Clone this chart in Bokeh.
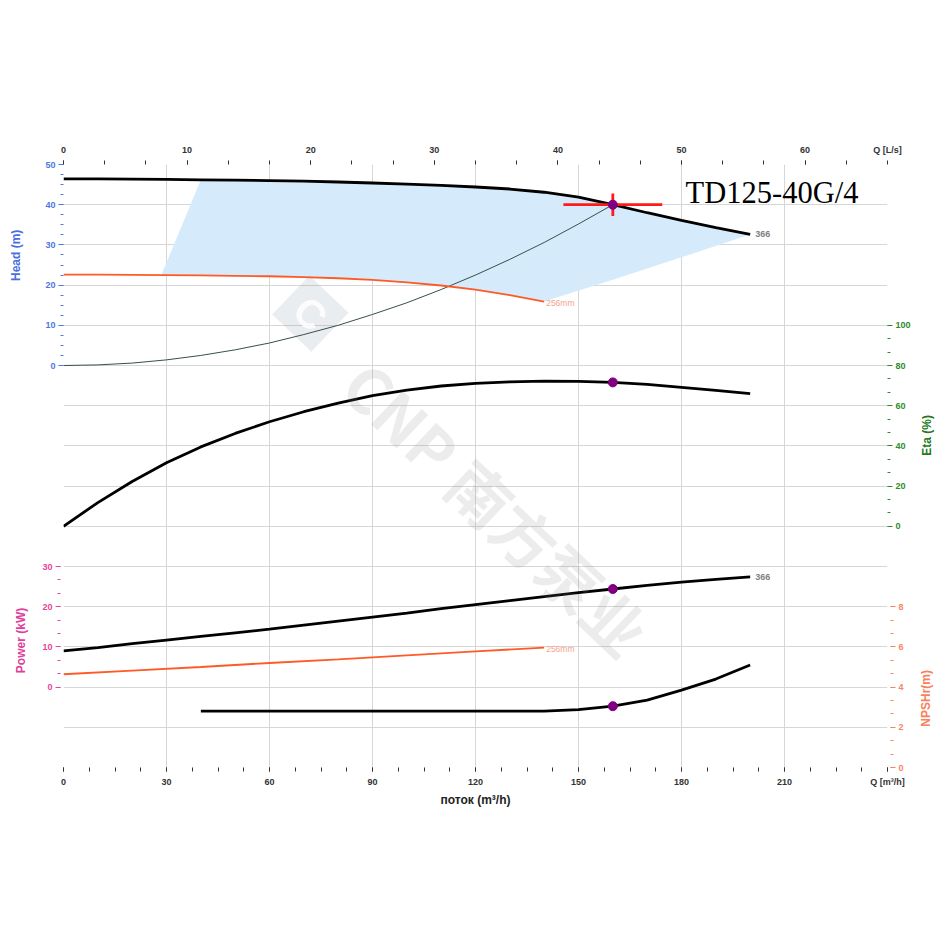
import numpy as np
from bokeh.plotting import figure
from bokeh.models import Range1d, LinearAxis, FixedTicker, Grid, Label
from bokeh.core.properties import value
from bokeh.embed import file_html
from bokeh.resources import INLINE

# ---------------- data ----------------
model_name = "TD125-40G/4"
label_max = "366"
label_min = "256mm"

q_head = [0, 10, 20, 30, 40, 50, 60, 70, 80, 90, 100, 110, 120, 130, 140, 150, 160, 170, 180, 190, 200]
head_366 = [46.4, 46.4, 46.35, 46.3, 46.2, 46.1, 46.0, 45.85, 45.65, 45.4, 45.1, 44.8, 44.4, 43.9, 43.1, 41.9, 40.0, 38.0, 36.1, 34.3, 32.6]

q_head_256 = [0, 10, 20, 30, 40, 50, 60, 70, 80, 90, 100, 110, 120, 130, 140]
head_256 = [22.6, 22.6, 22.55, 22.5, 22.4, 22.3, 22.2, 22.0, 21.7, 21.3, 20.7, 19.9, 18.9, 17.5, 15.9]

q_system = [0, 10, 20, 30, 40, 50, 60, 70, 80, 90, 100, 110, 120, 130, 140, 150, 160]
head_system = [0, 0.15, 0.6, 1.4, 2.5, 3.9, 5.6, 7.7, 10.0, 12.7, 15.6, 18.9, 22.5, 26.4, 30.6, 35.2, 40.0]

# operating range (shaded): left and right boundaries
shade_left_q = [28.5, 40]
shade_left_h = [22.5, 46.2]
shade_right_q = [200, 180, 160, 140]
shade_right_h = [32.6, 26.9, 21.3, 15.9]

q_eta = [0, 10, 20, 30, 40, 50, 60, 70, 80, 90, 100, 110, 120, 130, 140, 150, 160, 170, 180, 190, 200]
eta_366 = [0, 11.8, 22.3, 31.6, 39.5, 46.2, 52.0, 57.0, 61.3, 65.0, 67.8, 69.8, 71.1, 71.9, 72.2, 72.1, 71.6, 70.6, 69.1, 67.6, 66.0]

q_power = [0, 10, 20, 30, 40, 50, 60, 70, 80, 90, 100, 110, 120, 130, 140, 150, 160, 170, 180, 190, 200]
power_366 = [9.0, 9.8, 10.8, 11.7, 12.6, 13.5, 14.4, 15.4, 16.4, 17.4, 18.4, 19.5, 20.5, 21.5, 22.5, 23.5, 24.4, 25.3, 26.1, 26.8, 27.4]

q_power_256 = [0, 20, 40, 60, 80, 100, 120, 140]
power_256 = [3.2, 4.1, 5.0, 6.0, 6.9, 7.9, 8.9, 9.8]

q_npsh = [40, 60, 80, 100, 120, 140, 150, 160, 170, 180, 190, 200]
npsh_366 = [2.8, 2.8, 2.8, 2.8, 2.8, 2.8, 2.88, 3.05, 3.35, 3.85, 4.4, 5.1]

duty_q = 160
duty_head = 40.0
duty_eta = 71.6
duty_power = 24.4
duty_npsh = 3.05

q_ticks = [0, 30, 60, 90, 120, 150, 180, 210, 240]
ls_ticks = [0, 10, 20, 30, 40, 50, 60]
head_ticks = [0, 10, 20, 30, 40, 50]
eta_ticks = [0, 20, 40, 60, 80, 100]
power_ticks = [0, 10, 20, 30]
npsh_ticks = [0, 2, 4, 6, 8]

# ---------------- styles ----------------
C_HEAD = "#4f77e0"
C_ETA = "#2e8b2e"
C_POW = "#e8459a"
C_NPSH = "#f9845f"
C_AX = "#333333"
C_ORANGE = "#ff5a26"
C_GRID = "#d6d6d6"
FONT = "Liberation Sans"
Q_MAX = 240

p = figure(frame_width=824, frame_height=603,
           x_range=Range1d(0, Q_MAX), y_range=Range1d(-100, 50),
           x_axis_type=None, y_axis_type=None,
           min_border_left=63, min_border_right=55, min_border_top=164, min_border_bottom=50,
           output_backend="svg", toolbar_location=None)
p.outline_line_color = None
p.extra_y_ranges = {"eta": Range1d(-120, 180), "power": Range1d(-20, 130), "npsh": Range1d(0, 30)}
p.extra_x_ranges = {"ls": Range1d(0, Q_MAX / 3.6)}

p.add_layout(Grid(dimension=0, ticker=FixedTicker(ticks=q_ticks), grid_line_color=C_GRID))
p.add_layout(Grid(dimension=1, ticker=FixedTicker(ticks=list(range(-100, 51, 10))), grid_line_color=C_GRID))


def style_axis(ax, color, tick_out, minor_out, standoff, shift=0):
    # shift: width of the axis stacked between this one and the frame,
    # so that the ticks and labels are drawn right at the frame edge
    ax.axis_line_color = None
    ax.major_tick_line_color = color
    ax.minor_tick_line_color = color
    ax.major_tick_out = tick_out - shift
    ax.major_tick_in = shift
    ax.minor_tick_out = minor_out - shift
    ax.minor_tick_in = shift
    ax.major_label_text_color = color
    ax.major_label_text_font = FONT
    ax.major_label_text_font_style = "bold"
    ax.major_label_text_font_size = "9px"
    ax.major_label_standoff = standoff


def side_title(txt, x, y, color, angle, place):
    p.add_layout(Label(x=x, y=y, text=txt, angle=angle, angle_units="deg",
                       text_font=FONT, text_font_style="bold", text_font_size="12px",
                       text_color=color, text_align="center", text_baseline="middle"), place)


# axes
ls_end = Q_MAX / 3.6
ax_ls = LinearAxis(x_range_name="ls",
                   ticker=FixedTicker(ticks=ls_ticks + [ls_end], minor_ticks=list(np.arange(0, ls_end, 10 / 3))))
ax_ls.major_label_overrides = {ls_end: "Q [L/s]"}
style_axis(ax_ls, C_AX, 4, 4, 6)
p.add_layout(ax_ls, "above")

ax_q = LinearAxis(ticker=FixedTicker(ticks=q_ticks, minor_ticks=list(np.arange(0, Q_MAX + 0.1, 7.5))))
ax_q.major_label_overrides = {Q_MAX: "Q [m³/h]"}
style_axis(ax_q, C_AX, 4, 4, 5)
p.add_layout(ax_q, "below")

ax_h = LinearAxis(ticker=FixedTicker(ticks=head_ticks, minor_ticks=list(np.arange(0, 50.1, 2.5))))
style_axis(ax_h, C_HEAD, 5, 3, 3)
p.add_layout(ax_h, "left")

ax_p = LinearAxis(y_range_name="power",
                  ticker=FixedTicker(ticks=power_ticks, minor_ticks=list(np.arange(0, 30.1, 10 / 3))))
style_axis(ax_p, C_POW, 5, 3, 3, shift=18)
p.add_layout(ax_p, "left")

ax_e = LinearAxis(y_range_name="eta",
                  ticker=FixedTicker(ticks=eta_ticks, minor_ticks=list(np.arange(0, 100.1, 20 / 3))))
style_axis(ax_e, C_ETA, 5, 3, 3)
p.add_layout(ax_e, "right")

ax_n = LinearAxis(y_range_name="npsh",
                  ticker=FixedTicker(ticks=npsh_ticks, minor_ticks=list(np.arange(0, 8.1, 2 / 3))))
style_axis(ax_n, C_NPSH, 5, 3, 3, shift=23)
p.add_layout(ax_n, "right")

# shaded operating range
poly_q = list(shade_left_q)
poly_h = list(shade_left_h)
for q, h in zip(q_head, head_366):
    if shade_left_q[-1] < q < shade_right_q[0]:
        poly_q.append(q); poly_h.append(h)
poly_q += shade_right_q
poly_h += shade_right_h
for q, h in reversed(list(zip(q_head_256, head_256))):
    if shade_left_q[0] < q < shade_right_q[-1]:
        poly_q.append(q); poly_h.append(h)
p.patch(poly_q, poly_h, fill_color="#d5eafa", line_color=None)

# watermark logo (faint rotated square with a knocked-out letter)
p.scatter(x=[71.9], y=[12.9], marker="square", size=54, angle=-43.6, angle_units="deg",
          fill_color="#7f93a8", fill_alpha=0.17, line_color=None)
p.text(x=[71.9], y=[12.9], text=["C"], angle=-43.6, angle_units="deg",
       text_font=value("Liberation Sans"), text_font_style="bold", text_font_size="40px",
       text_color="white", text_alpha=0.9, text_align="center", text_baseline="middle")

# curves
p.line(q_system, head_system, line_color="#3a4f4a", line_width=1)
p.line(q_head_256, head_256, line_color=C_ORANGE, line_width=1.8)
p.line(q_head, head_366, line_color="black", line_width=2.8)
p.line(q_eta, eta_366, y_range_name="eta", line_color="black", line_width=2.8)
p.line(q_power_256, power_256, y_range_name="power", line_color=C_ORANGE, line_width=1.8)
p.line(q_power, power_366, y_range_name="power", line_color="black", line_width=2.8)
p.line(q_npsh, npsh_366, y_range_name="npsh", line_color="black", line_width=2.8)

# curve end labels
for qx, yv, rn in [(q_head[-1], head_366[-1], "default"), (q_power[-1], power_366[-1], "power")]:
    p.text(x=[qx], y=[yv], text=[label_max], y_range_name=rn, x_offset=5,
           text_font=value(FONT), text_font_style="bold", text_font_size="9px",
           text_color="#7f7f7f", text_baseline="middle", text_align="left")
for qx, yv, rn in [(q_head_256[-1], head_256[-1], "default"), (q_power_256[-1], power_256[-1], "power")]:
    p.text(x=[qx], y=[yv], text=[label_min], y_range_name=rn, x_offset=2, y_offset=1,
           text_font=value(FONT), text_font_size="8.5px",
           text_color="#f5a38d", text_baseline="middle", text_align="left")

# duty point
dq, dh = 14.4, 2.8
p.segment(x0=[duty_q - dq, duty_q], y0=[duty_head, duty_head - dh],
          x1=[duty_q + dq, duty_q], y1=[duty_head, duty_head + dh],
          line_color="#ff1a1a", line_width=2.8)
p.scatter([duty_q], [duty_head], size=9, color="#800080")
p.scatter([duty_q], [duty_eta], y_range_name="eta", size=9, color="#800080")
p.scatter([duty_q], [duty_power], y_range_name="power", size=9, color="#800080")
p.scatter([duty_q], [duty_npsh], y_range_name="npsh", size=9, color="#800080")

# model name
p.add_layout(Label(x=181.2, y=42.8, text=model_name, text_font="Liberation Serif",
                   text_font_size="30.5px", text_color="black", text_baseline="alphabetic"))

# watermark text
p.add_layout(Label(x=126.4, y=-35.3, text="CNP 南方泵业", angle=-43.6, angle_units="deg",
                   text_font="Noto Sans CJK SC", text_font_style="bold", text_font_size="62px",
                   text_color="#8a8a8a", text_alpha=0.16, text_align="center", text_baseline="middle"))

# axis titles (in the side panels)
side_title("Head (m)", -13.7, 27.4, "#4a70e0", 90, "left")
side_title("Power (kW)", -12.5, -68.4, "#e0409a", 90, "left")
side_title("Eta (%)", 251.4, -17.4, "#227a22", 90, "right")
side_title("NPSHr(m)", 251.1, -82.8, "#fa7f5c", 90, "right")
side_title("поток (m³/h)", 120.0, -108.2, "#222222", 0, "below")

open("out.html", "w").write(file_html(p, INLINE))
